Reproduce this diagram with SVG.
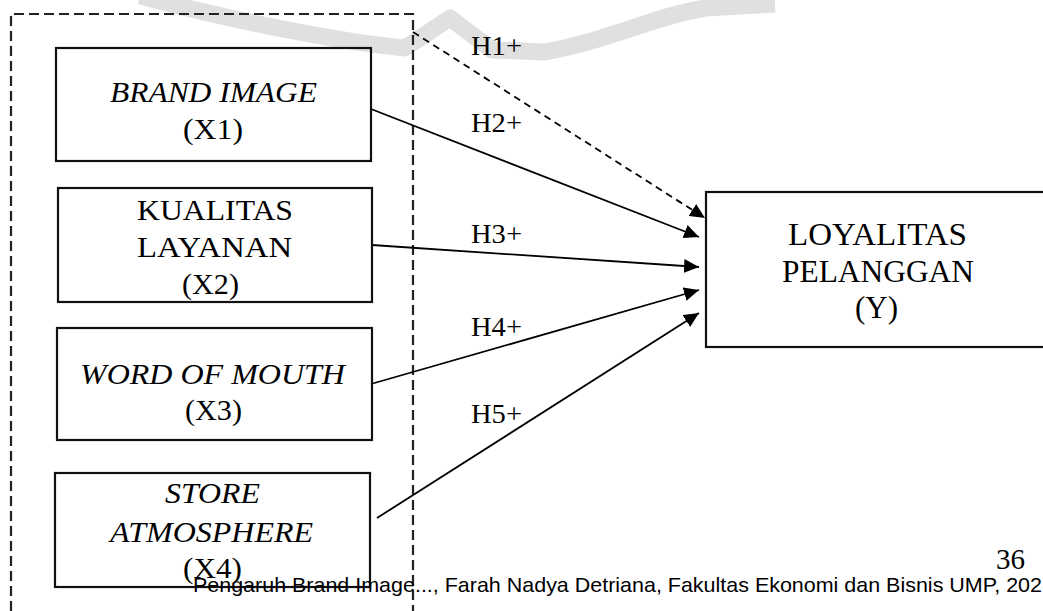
<svg xmlns="http://www.w3.org/2000/svg" width="1043" height="611" viewBox="0 0 1043 611">
<style>
.bg{fill:#ffffff}
.wm{fill:none;stroke:#e0e0e0;stroke-width:17;stroke-linejoin:round;stroke-linecap:butt}
.box{fill:none;stroke:#111;stroke-width:2.2}
.frame{fill:none;stroke:#222;stroke-width:2.2;stroke-dasharray:10 5}
.conn{fill:none;stroke:#000;stroke-width:1.8}
.dash{stroke-dasharray:7 5}
.t{font-family:"Liberation Serif","Times New Roman",serif;font-size:30px;fill:#000;text-anchor:middle}
.i{font-style:italic}
.y{font-size:31px}
.h{text-anchor:start;font-size:28px}
.foot{font-family:"Liberation Sans",Arial,sans-serif;font-size:21px;fill:#000}
</style>
<defs>
<marker id="ah" viewBox="0 0 15 14" refX="15" refY="7" markerWidth="15" markerHeight="14" markerUnits="userSpaceOnUse" orient="auto">
<path d="M0,0 L15,7 L0,14 z" fill="#000"/>
</marker>
</defs>
<rect class="bg" x="0" y="0" width="1043" height="611"/>
<path class="wm" d="M140,-4 C230,20 340,42 405,48 L450,18 L492,50 L545,52 C610,40 655,16 705,8 L775,4"/>
<path class="frame" d="M11,611 V14 H413 V611"/>
<g id="connectors">
<line class="conn dash" x1="413" y1="32" x2="705" y2="218" marker-end="url(#ah)"/>
<line class="conn" x1="371" y1="109" x2="699" y2="237" marker-end="url(#ah)"/>
<line class="conn" x1="372" y1="245" x2="699" y2="267" marker-end="url(#ah)"/>
<line class="conn" x1="371" y1="384" x2="699" y2="290" marker-end="url(#ah)"/>
<line class="conn" x1="377" y1="518" x2="699" y2="313" marker-end="url(#ah)"/>
<text class="t h" x="471" y="55" textLength="51" lengthAdjust="spacingAndGlyphs">H1+</text>
<text class="t h" x="471" y="132" textLength="51" lengthAdjust="spacingAndGlyphs">H2+</text>
<text class="t h" x="471" y="243" textLength="51" lengthAdjust="spacingAndGlyphs">H3+</text>
<text class="t h" x="471" y="336" textLength="51" lengthAdjust="spacingAndGlyphs">H4+</text>
<text class="t h" x="471" y="423" textLength="51" lengthAdjust="spacingAndGlyphs">H5+</text>
</g>
<g id="x1">
<rect class="box" x="56" y="48" width="315" height="113"/>
<text class="t i" x="213.5" y="101.5" textLength="207" lengthAdjust="spacingAndGlyphs">BRAND IMAGE</text>
<text class="t" x="213" y="139" textLength="60" lengthAdjust="spacingAndGlyphs">(X1)</text>
</g>
<g id="x2">
<rect class="box" x="58" y="188" width="314" height="114"/>
<text class="t" x="215" y="219.5" textLength="156" lengthAdjust="spacingAndGlyphs">KUALITAS</text>
<text class="t" x="214.5" y="256.5" textLength="155" lengthAdjust="spacingAndGlyphs">LAYANAN</text>
<text class="t" x="210.5" y="293.5" textLength="57" lengthAdjust="spacingAndGlyphs">(X2)</text>
</g>
<g id="x3">
<rect class="box" x="57" y="328" width="315" height="112"/>
<text class="t i" x="212.5" y="383.5" textLength="265" lengthAdjust="spacingAndGlyphs">WORD OF MOUTH</text>
<text class="t" x="213.5" y="420" textLength="57" lengthAdjust="spacingAndGlyphs">(X3)</text>
</g>
<g id="x4">
<rect class="box" x="55" y="473" width="315" height="114"/>
<text class="t i" x="212.5" y="503" textLength="95" lengthAdjust="spacingAndGlyphs">STORE</text>
<text class="t i" x="211.5" y="541.5" textLength="203" lengthAdjust="spacingAndGlyphs">ATMOSPHERE</text>
<text class="t" x="212.5" y="578" textLength="59" lengthAdjust="spacingAndGlyphs">(X4)</text>
</g>
<g id="y">
<rect class="box" x="706" y="192" width="360" height="155"/>
<text class="t y" x="877.5" y="245" textLength="179" lengthAdjust="spacingAndGlyphs">LOYALITAS</text>
<text class="t y" x="878" y="281.5" textLength="192" lengthAdjust="spacingAndGlyphs">PELANGGAN</text>
<text class="t y" x="876.5" y="318" textLength="43" lengthAdjust="spacingAndGlyphs">(Y)</text>
</g>
<g id="footer">
<text class="t" x="1010.5" y="569" textLength="29" lengthAdjust="spacingAndGlyphs">36</text>
<text class="foot" x="193" y="592" textLength="849" lengthAdjust="spacingAndGlyphs">Pengaruh Brand Image..., Farah Nadya Detriana, Fakultas Ekonomi dan Bisnis UMP, 202</text>
</g>
</svg>
